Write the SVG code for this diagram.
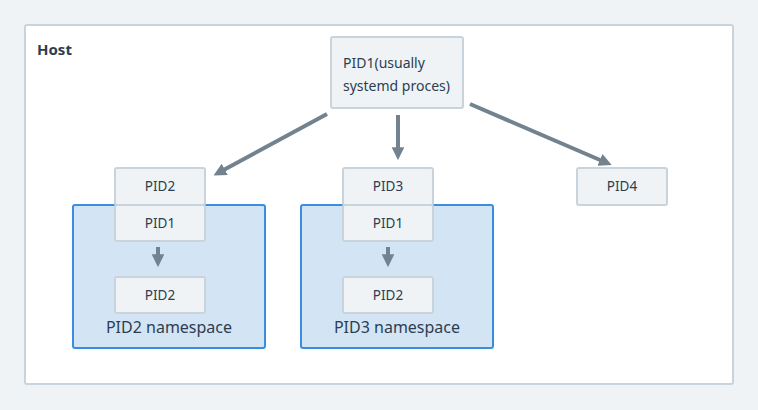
<svg xmlns="http://www.w3.org/2000/svg" width="758" height="410" viewBox="0 0 758 410">
<defs>
<style>
.t{font-family:"Noto Sans","DejaVu Sans",sans-serif;fill:#2c3e50;}
.s{font-size:13.5px;text-anchor:middle;}
.box{fill:#eff3f6;stroke:#c8d3dc;stroke-width:2;}
.ns{fill:#d3e4f5;stroke:#3a8ee0;stroke-width:2;}
.c{stroke:#73828f;stroke-width:4;fill:none;marker-end:url(#ah);}
</style>
<marker id="ah" viewBox="0 0 10 10" refX="6" refY="5" markerWidth="3.2" markerHeight="3.2" orient="auto" markerUnits="strokeWidth">
<path d="M0,0 L10,5 L0,10 z" fill="#73828f"/>
</marker>
</defs>
<rect width="758" height="410" fill="#eff3f6"/>
<g id="host">
<rect x="25" y="25" width="708" height="359" rx="2" fill="#ffffff" stroke="#c8d3dc" stroke-width="2"/>
<text class="t" x="37" y="55" font-size="15" font-weight="bold">Host</text>
</g>
<g id="pid1-root">
<rect class="box" x="331" y="37" width="132" height="71" rx="2"/>
<text class="t" x="343" y="68" font-size="14">PID1(usually</text>
<text class="t" x="343" y="91" font-size="14">systemd proces)</text>
</g>
<g id="ns2">
<rect class="ns" x="73" y="205" width="192" height="143" rx="2"/>
<text class="t" x="169" y="333" font-size="16" text-anchor="middle">PID2 namespace</text>
</g>
<g id="ns3">
<rect class="ns" x="301" y="205" width="192" height="143" rx="2"/>
<text class="t" x="397" y="333" font-size="16" text-anchor="middle">PID3 namespace</text>
</g>
<g id="ns2-pid2">
<rect class="box" x="115" y="168" width="90" height="37" rx="2"/>
<text class="t s" x="160" y="191">PID2</text>
</g>
<g id="ns2-pid1">
<rect class="box" x="115" y="205" width="90" height="36" rx="2"/>
<text class="t s" x="160" y="228">PID1</text>
</g>
<g id="ns2-child">
<rect class="box" x="115" y="277" width="90" height="36" rx="2"/>
<text class="t s" x="160" y="300">PID2</text>
</g>
<g id="ns3-pid3">
<rect class="box" x="343" y="168" width="90" height="37" rx="2"/>
<text class="t s" x="388" y="191">PID3</text>
</g>
<g id="ns3-pid1">
<rect class="box" x="343" y="205" width="90" height="36" rx="2"/>
<text class="t s" x="388" y="228">PID1</text>
</g>
<g id="ns3-child">
<rect class="box" x="343" y="277" width="90" height="36" rx="2"/>
<text class="t s" x="388" y="300">PID2</text>
</g>
<g id="pid4">
<rect class="box" x="577" y="168" width="90" height="37" rx="2"/>
<text class="t s" x="622" y="191">PID4</text>
</g>
<g id="connectors">
<line class="c" x1="327" y1="114" x2="218" y2="173"/>
<line class="c" x1="398" y1="115" x2="398" y2="155"/>
<line class="c" x1="470" y1="104" x2="607" y2="163"/>
<line class="c" x1="158" y1="247" x2="158" y2="262"/>
<line class="c" x1="388" y1="247" x2="388" y2="262"/>
</g>
</svg>
